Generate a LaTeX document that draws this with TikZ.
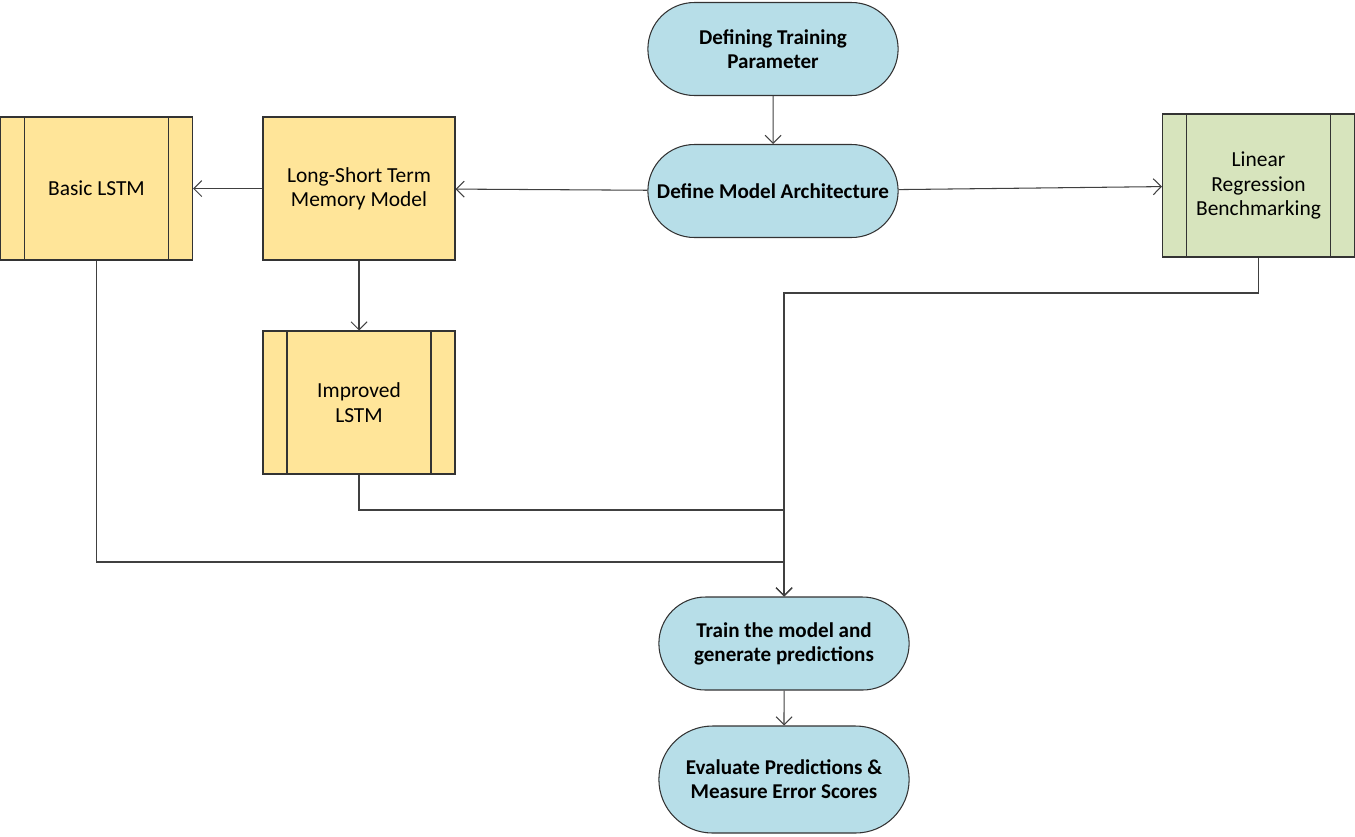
\documentclass[tikz,border=0pt]{standalone}
\usepackage{fontspec}
\setmainfont{Carlito}
\usetikzlibrary{shapes.misc,arrows.meta}
\definecolor{termblue}{RGB}{183,222,232}
\definecolor{procyellow}{RGB}{255,229,153}
\definecolor{procgreen}{RGB}{215,228,189}
\tikzset{
    every node/.style={font=\fontsize{12.2}{13.8}\selectfont, align=center},
    term/.style={rounded rectangle, draw=black!80, line width=0.6pt, fill=termblue,
        minimum width=5.24cm, minimum height=1.86cm, font=\fontsize{12}{13.8}\selectfont\bfseries},
    proc/.style={rectangle, draw=black!80, line width=0.6pt,
        minimum width=3.84cm, minimum height=2.86cm,
        path picture={
            \draw[black!80, line width=0.6pt]
                ([xshift=0.48cm]path picture bounding box.north west) --
                ([xshift=0.48cm]path picture bounding box.south west)
                ([xshift=-0.48cm]path picture bounding box.north east) --
                ([xshift=-0.48cm]path picture bounding box.south east);
        }},
    plainbox/.style={rectangle, draw=black!80, line width=0.6pt, fill=procyellow,
        minimum width=3.84cm, minimum height=2.86cm},
    link/.style={draw=black!75, line width=0.6pt, -{Straight Barb[length=1.6mm,width=3.2mm]}}
}

\begin{document}
\begin{tikzpicture}[x=0.02cm, y=-0.02cm]
    \useasboundingbox (0,0) rectangle (1355,836);

    \node (param) [term] at (773, 49) {Defining Training\\Parameter};
    \node (arch) [term] at (773, 191) {Define Model Architecture};
    \node (lstm) [plainbox] at (359, 188.5) {Long-Short Term\\Memory Model};
    \node (basic) [proc, fill=procyellow] at (96.5, 188.5) {Basic LSTM};
    \node (improved) [proc, fill=procyellow] at (359, 402.5) {Improved\\LSTM};
    \node (linreg) [proc, fill=procgreen] at (1258.5, 185.5) {Linear\\Regression\\Benchmarking};
    \node (train) [term] at (784, 643.5) {Train the model and\\generate predictions};
    \node (eval) [term, minimum height=2.14cm] at (784, 779.5) {Evaluate Predictions \&\\Measure Error Scores};

    \coordinate (jlin) at (784, 293);
    \coordinate (jimp) at (784, 510);
    \coordinate (jbas) at (784, 562);

    \draw[link] (param) -- (arch);
    \draw[link] (arch) -- (lstm);
    \draw[link] (arch) -- (linreg);
    \draw[link] (lstm) -- (basic);
    \draw[link] (lstm) -- (improved);
    \draw[link] (linreg.south) |- (jlin) -- (train.north);
    \draw[link] (improved.south) |- (jimp) -- (train.north);
    \draw[link] (basic.south) |- (jbas) -- (train.north);
    \draw[link] (train) -- (eval);
\end{tikzpicture}
\end{document}
